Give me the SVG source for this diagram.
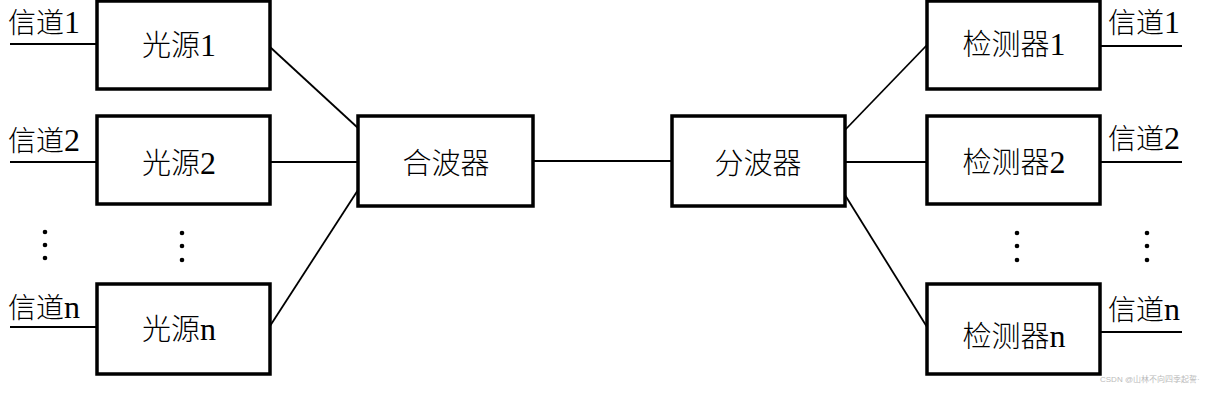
<svg xmlns="http://www.w3.org/2000/svg" width="1206" height="410" viewBox="0 0 1206 410">
<style>
.box{fill:#fff;stroke:#000;stroke-width:3.5}
.ln{stroke:#000;stroke-width:1.8;fill:none}
.lbl{font-family:"Liberation Serif","Noto Sans CJK SC",serif;font-size:29px;font-weight:300;fill:#000;text-anchor:middle}
.ch{font-family:"Liberation Serif","Noto Sans CJK SC",serif;font-size:28px;font-weight:300;fill:#000}
.d{font-size:32px;font-weight:400}
.dot{fill:#000}
.wm{font-family:"Liberation Sans","Noto Sans CJK SC",sans-serif;font-size:8px;fill:#bbb}
</style>
<rect width="1206" height="410" fill="#fff"/>
<g id="connectors">
<line class="ln" x1="10" y1="44" x2="97" y2="44"/>
<line class="ln" x1="10" y1="162" x2="97" y2="162"/>
<line class="ln" x1="10" y1="327" x2="97" y2="327"/>
<line class="ln" x1="270" y1="47" x2="358" y2="128"/>
<line class="ln" x1="270" y1="162" x2="358" y2="162"/>
<line class="ln" x1="270" y1="326" x2="358" y2="190"/>
<line class="ln" x1="533" y1="161" x2="672" y2="161"/>
<line class="ln" x1="845" y1="130" x2="927" y2="45"/>
<line class="ln" x1="845" y1="162" x2="927" y2="162"/>
<line class="ln" x1="845" y1="195" x2="927" y2="327"/>
<line class="ln" x1="1100" y1="46" x2="1182" y2="46"/>
<line class="ln" x1="1100" y1="162" x2="1182" y2="162"/>
<line class="ln" x1="1100" y1="332" x2="1182" y2="332"/>
</g>
<g id="ch-left">
<text class="ch" x="8" y="33">信道<tspan class="d">1</tspan></text>
<text class="ch" x="8" y="151">信道<tspan class="d">2</tspan></text>
<text class="ch" x="8" y="318">信道<tspan class="d">n</tspan></text>
</g>
<g id="src1"><rect class="box" x="97" y="1" width="173" height="88"/><text class="lbl" x="179" y="56">光源<tspan class="d">1</tspan></text></g>
<g id="src2"><rect class="box" x="97" y="116" width="173" height="88"/><text class="lbl" x="179" y="174">光源<tspan class="d">2</tspan></text></g>
<g id="srcn"><rect class="box" x="97" y="284" width="173" height="90"/><text class="lbl" x="179" y="340">光源<tspan class="d">n</tspan></text></g>
<g id="mux"><rect class="box" x="358" y="116" width="175" height="90"/><text class="lbl" x="446" y="174">合波器</text></g>
<g id="demux"><rect class="box" x="672" y="116" width="173" height="90"/><text class="lbl" x="758" y="174">分波器</text></g>
<g id="det1"><rect class="box" x="927" y="1" width="173" height="88"/><text class="lbl" x="1014" y="55">检测器<tspan class="d">1</tspan></text></g>
<g id="det2"><rect class="box" x="927" y="116" width="173" height="88"/><text class="lbl" x="1014" y="173">检测器<tspan class="d">2</tspan></text></g>
<g id="detn"><rect class="box" x="927" y="284" width="173" height="90"/><text class="lbl" x="1014" y="347">检测器<tspan class="d">n</tspan></text></g>
<g id="ch-right">
<text class="ch" x="1108" y="33">信道<tspan class="d">1</tspan></text>
<text class="ch" x="1108" y="149">信道<tspan class="d">2</tspan></text>
<text class="ch" x="1108" y="320">信道<tspan class="d">n</tspan></text>
</g>
<g id="dots">
<circle class="dot" cx="45" cy="232" r="2.3"/><circle class="dot" cx="45" cy="245" r="2.3"/><circle class="dot" cx="45" cy="258" r="2.3"/>
<circle class="dot" cx="182" cy="233" r="2.3"/><circle class="dot" cx="182" cy="246" r="2.3"/><circle class="dot" cx="182" cy="260" r="2.3"/>
<circle class="dot" cx="1017" cy="233" r="2.3"/><circle class="dot" cx="1017" cy="246" r="2.3"/><circle class="dot" cx="1017" cy="260" r="2.3"/>
<circle class="dot" cx="1147" cy="233" r="2.3"/><circle class="dot" cx="1147" cy="246" r="2.3"/><circle class="dot" cx="1147" cy="260" r="2.3"/>
</g>
<text class="wm" x="1100" y="382">CSDN @山林不向四季起誓·</text>
</svg>
